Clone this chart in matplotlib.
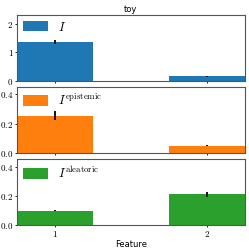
import matplotlib
matplotlib.use("Agg")
import matplotlib.pyplot as plt
from matplotlib.ticker import FuncFormatter

plt.rcParams['mathtext.fontset'] = 'cm'

features = [1, 2]
labels = [r'$I$', r'$I^{\mathrm{epistemic}}$', r'$I^{\mathrm{aleatoric}}$']
colors = ['#1f77b4', '#ff7f0e', '#2ca02c']
total = [1.36, 0.15]
total_err = [0.07, 0.02]
epistemic = [0.255, 0.05]
epistemic_err = [0.03, 0.005]
aleatoric = [0.099, 0.21]
aleatoric_err = [0.005, 0.015]
ylims = [2.3, 0.45, 0.45]
yticks = [[0, 1, 2], [0.0, 0.2, 0.4], [0.0, 0.2, 0.4]]
ytick_fmt = ['%d', '%.1f', '%.1f']

fig, axes = plt.subplots(3, 1, figsize=(2.49, 2.49), dpi=100, sharex=True)
fig.subplots_adjust(left=0.068, right=0.984, top=0.94, bottom=0.096, hspace=0.1)

vals = [total, epistemic, aleatoric]
errs = [total_err, epistemic_err, aleatoric_err]
for i, ax in enumerate(axes):
    ax.bar(features, vals[i], width=0.5, color=colors[i], label=labels[i],
           yerr=errs[i], error_kw=dict(ecolor='black', elinewidth=1.3, capsize=0))
    ax.set_xlim(0.75, 2.25)
    ax.set_ylim(0, ylims[i])
    ax.set_yticks(yticks[i])
    fmt = ytick_fmt[i]
    ax.yaxis.set_major_formatter(FuncFormatter(lambda v, p, fmt=fmt: '$' + (fmt % v) + '$'))
    ax.tick_params(labelsize=6.5, length=1.5, width=0.6, pad=1)
    for s in ax.spines.values():
        s.set_color('#555555')
        s.set_linewidth(0.8)
    ax.legend(loc='upper left', frameon=False, fontsize=9, handlelength=2.0,
              handleheight=0.9, borderaxespad=0.05, handletextpad=0.8)

axes[-1].set_xticks(features)
axes[-1].xaxis.set_major_formatter(FuncFormatter(lambda v, p: '$%d$' % v))
axes[0].set_title('toy', fontsize=6, pad=2)
axes[-1].set_xlabel('Feature', fontsize=6, labelpad=1)

fig.savefig('out.png', dpi=100)
